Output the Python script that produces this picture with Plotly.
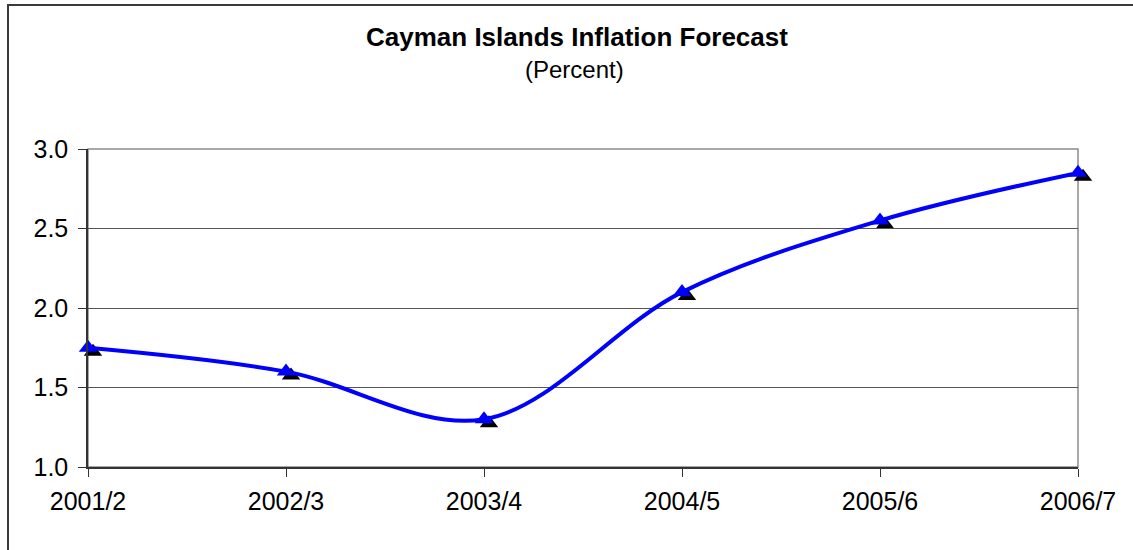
import plotly.graph_objects as go

# Fiscal years and forecast inflation (percent)
years = ["2001/2", "2002/3", "2003/4", "2004/5", "2005/6", "2006/7"]
inflation = [1.75, 1.60, 1.30, 2.10, 2.55, 2.85]
y_ticks = [1.0, 1.5, 2.0, 2.5, 3.0]

W, H = 1133, 550
ML, MR, MT, MB = 88, 50, 149, 79
SHX, SHY = 5, 4            # marker drop-shadow shift in px
PW, PH = W - ML - MR, H - MT - MB

FONT = "Arial, Liberation Sans, sans-serif"
idx = list(range(len(years)))
x_range = [0, len(years) - 1]
y_range = [y_ticks[0], y_ticks[-1]]

fig = go.Figure()

# shadow markers sit on a hidden subplot whose domain is nudged right/down
fig.add_trace(go.Scatter(
    x=idx, y=inflation, xaxis="x", yaxis="y",
    mode="markers",
    marker=dict(symbol="triangle-up", size=16, color="black"),
    cliponaxis=False, hoverinfo="skip", showlegend=False,
))

# forecast line on the visible subplot, drawn above the shadows
fig.add_trace(go.Scatter(
    x=idx, y=inflation, xaxis="x2", yaxis="y2",
    mode="lines+markers",
    line=dict(color="#0000FF", width=4, shape="spline", smoothing=1.0),
    marker=dict(symbol="triangle-up", size=16, color="#0000FF"),
    cliponaxis=False, showlegend=False,
))


def px_x(p):
    return (p - ML) / PW


def px_y(p):
    return (H - MB - p) / PH


main_xdom = [0, (PW - SHX) / PW]
main_ydom = [SHY / PH, 1]
shad_xdom = [SHX / PW, 1]
shad_ydom = [0, (PH - SHY) / PH]

shapes = [
    # plot-area frame (grey top and right edges)
    dict(type="rect", xref="x2 domain", yref="y2 domain", x0=0, y0=0, x1=1, y1=1,
         line=dict(color="#8c8c8c", width=1.5), layer="below"),
    # outer chart border
    dict(type="rect", xref="paper", yref="paper",
         x0=px_x(8), y0=px_y(560), x1=px_x(1145), y1=px_y(5),
         line=dict(color="#3a3a3a", width=2), layer="below"),
]

fig.update_layout(
    width=W, height=H,
    margin=dict(l=ML, r=MR, t=MT, b=MB, pad=0),
    paper_bgcolor="white", plot_bgcolor="rgba(0,0,0,0)",
    font=dict(family=FONT, size=25, color="black"),
    shapes=shapes,
    annotations=[
        dict(text="<b>Cayman Islands Inflation Forecast</b>", xref="paper", yref="paper",
             x=px_x(577), y=px_y(37), xanchor="center", yanchor="middle",
             showarrow=False, font=dict(family=FONT, size=26, color="black")),
        dict(text="(Percent)", xref="paper", yref="paper",
             x=px_x(574), y=px_y(70), xanchor="center", yanchor="middle",
             showarrow=False, font=dict(family=FONT, size=24, color="black")),
    ],
    xaxis=dict(domain=shad_xdom, range=x_range, anchor="y",
               visible=False, showgrid=False, zeroline=False),
    yaxis=dict(domain=shad_ydom, range=y_range, anchor="x",
               visible=False, showgrid=False, zeroline=False),
    xaxis2=dict(
        domain=main_xdom, range=x_range, anchor="y2",
        tickmode="array", tickvals=idx, ticktext=years,
        showgrid=False, zeroline=False,
        showline=True, linecolor="#333333", linewidth=1.5,
        ticks="outside", ticklen=8, tickcolor="#333333", tickwidth=1,
        ticklabelstandoff=3, tickfont=dict(size=25),
    ),
    yaxis2=dict(
        domain=main_ydom, range=y_range, anchor="x2",
        tickmode="array", tickvals=y_ticks,
        ticktext=[f"{v:.1f}" for v in y_ticks],
        showgrid=True, gridcolor="#555555", gridwidth=1, zeroline=False,
        showline=True, linecolor="#333333", linewidth=1.5,
        ticks="outside", ticklen=8, tickcolor="#333333", tickwidth=1,
        ticklabelstandoff=5, tickfont=dict(size=25),
    ),
)

fig.write_html("out.html")
